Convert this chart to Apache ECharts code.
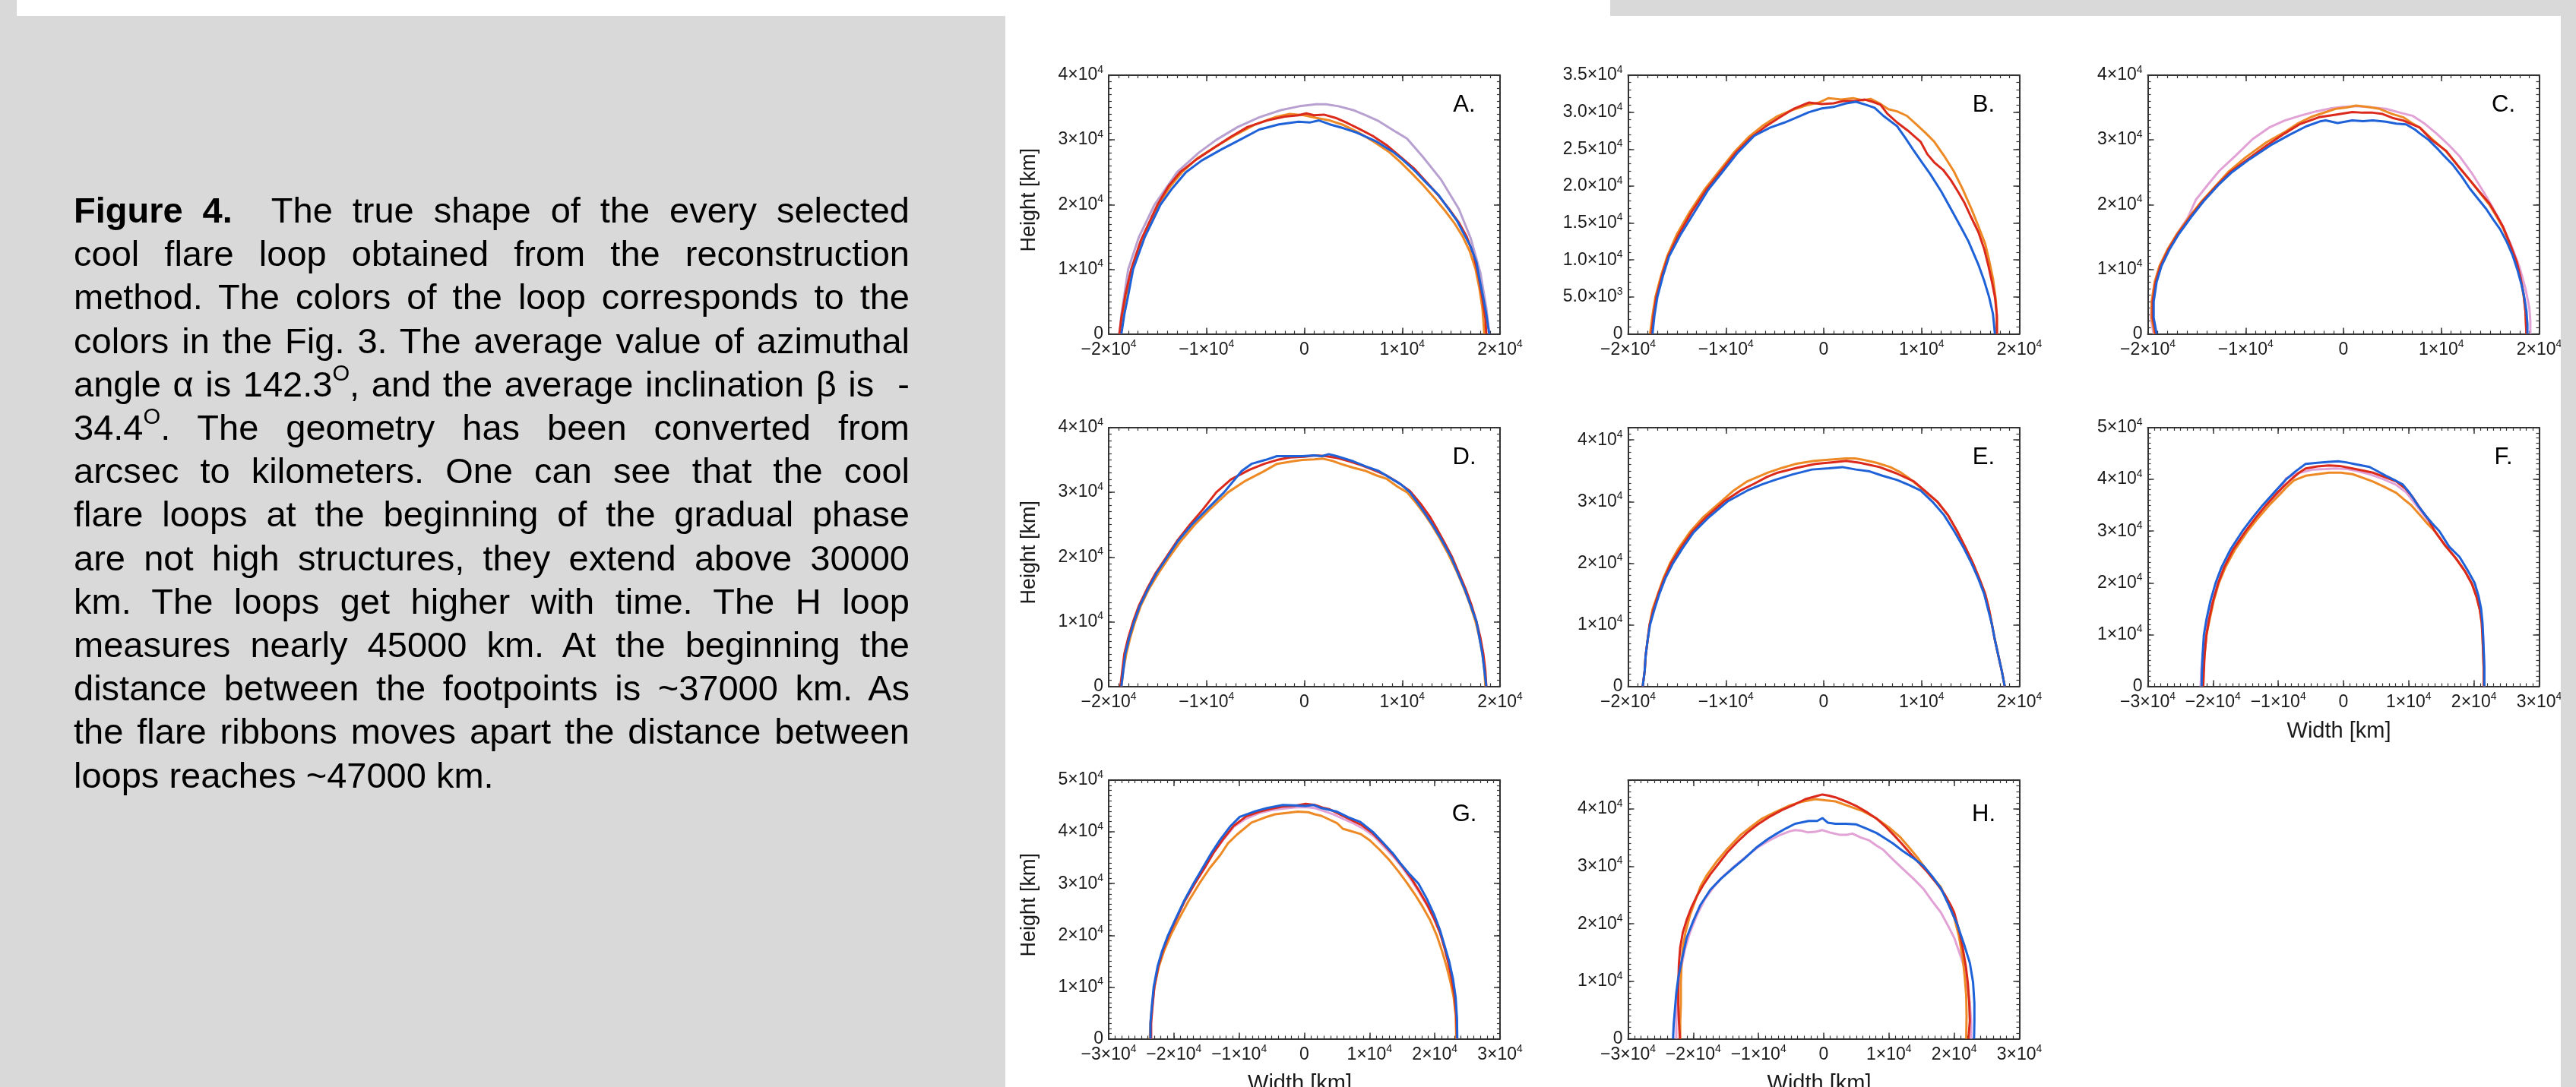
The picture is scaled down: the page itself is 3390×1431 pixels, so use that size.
<!DOCTYPE html>
<html>
<head>
<meta charset="utf-8">
<script src="https://cdn.jsdelivr.net/npm/echarts/dist/echarts.min.js"></script>
<style>
  html, body { margin:0; padding:0; }
  body { width:3390px; height:1431px; background:#d9d9d9; overflow:hidden; position:relative; font-family:'Liberation Sans', Arial, sans-serif; }
  #topband { position:absolute; left:22px; top:0; width:2097px; height:21px; background:#fff; }
  #panel { position:absolute; left:1323px; top:21px; width:2047px; height:1410px; background:#fff; }
  #chart { position:absolute; left:0; top:0; width:3390px; height:1431px; z-index:2; }
  #rightstrip { position:absolute; left:3370px; top:0; width:20px; height:1431px; background:#d9d9d9; z-index:5; }
  #cap { position:absolute; left:97px; top:248px; width:1100px; font-size:47px; line-height:57.2px; color:#000; z-index:3; }
  #cap .l { text-align:justify; text-align-last:justify; }
  #cap .last { text-align:left; }
  #cap sup { font-size:0.62em; vertical-align:baseline; position:relative; top:-0.72em; line-height:0; }
</style>
</head>
<body>
<div id="topband"></div>
<div id="panel"></div>
<div id="chart"></div>
<div id="rightstrip"></div>
<div id="cap">
<div class="l"><b>Figure 4.</b>&nbsp; The true shape of the every selected</div>
<div class="l">cool flare loop obtained from the reconstruction</div>
<div class="l">method. The colors of the loop corresponds to the</div>
<div class="l">colors in the Fig. 3. The average value of azimuthal</div>
<div class="l">angle α is 142.3<sup>O</sup>, and the average inclination β is&nbsp; -</div>
<div class="l">34.4<sup>O</sup>. The geometry has been converted from</div>
<div class="l">arcsec to kilometers. One can see that the cool</div>
<div class="l">flare loops at the beginning of the gradual phase</div>
<div class="l">are not high structures, they extend above 30000</div>
<div class="l">km. The loops get higher with time. The H loop</div>
<div class="l">measures nearly 45000 km. At the beginning the</div>
<div class="l">distance between the footpoints is ~37000 km. As</div>
<div class="l">the flare ribbons moves apart the distance between</div>
<div class="last">loops reaches ~47000 km.</div>
</div>
<script>
// ---------------- DATA (x, height) in thousands of km ----------------
const purpleA = [[-18.9,0],[-18.7,3],[-18.4,6],[-18.0,10],[-16.9,15],[-15.3,20],[-13.0,25],[-10.8,28],[-9.0,30],[-6.8,32],[-4.6,33.5],[-2.4,34.6],[-0.5,35.2],[1.2,35.5],[2.2,35.5],[3.5,35.2],[5.0,34.6],[6.3,33.8],[7.6,32.9],[9.4,31.2],[10.5,30.2],[12.1,27.4],[14.0,23.8],[15.8,19.3],[17.0,14.8],[18.0,9.4],[18.6,4.0],[18.9,0]];
const orangeA = [[-18.8,0],[-18.6,2.5],[-18.2,6],[-17.6,10],[-16.6,14.5],[-14.9,20],[-13.7,22.8],[-12.5,25],[-10.9,27.2],[-9.0,29.0],[-7.0,30.8],[-5.0,32.4],[-3.0,33.5],[-1.5,34.0],[0.0,33.8],[1.2,33.4],[2.6,33.0],[4.0,32.3],[5.6,31.1],[7.2,29.6],[8.6,28.2],[9.8,26.6],[11.0,24.8],[12.2,22.9],[13.3,21.0],[14.4,19.0],[15.3,17.2],[16.2,15.0],[16.9,12.8],[17.5,10.0],[17.9,7.0],[18.2,4.0],[18.4,0]];
const redA = [[-18.9,0],[-18.7,2.5],[-18.3,6],[-17.7,10],[-16.7,14.5],[-15.0,20],[-13.9,22.8],[-12.7,25],[-11.0,27.0],[-9.2,28.8],[-7.6,30.4],[-5.8,32.0],[-3.8,33.0],[-2.0,33.6],[-0.6,33.8],[0.2,34.1],[1.0,33.8],[2.0,33.9],[3.2,33.4],[4.4,32.6],[5.6,31.7],[7.0,30.6],[8.4,29.2],[9.8,27.4],[11.2,25.6],[12.4,23.6],[13.6,21.6],[14.8,19.3],[15.8,17.2],[16.6,15.0],[17.3,12.2],[17.8,9.0],[18.2,5.5],[18.5,2.5],[18.6,0]];
const blueA = [[-18.7,0],[-18.4,3],[-18.0,6],[-17.5,10],[-16.3,15],[-14.7,20],[-13.5,22.5],[-12.1,25],[-10.5,26.8],[-8.5,28.5],[-6.6,30],[-4.6,31.6],[-2.6,32.4],[-0.6,32.8],[0.6,32.7],[1.5,33.0],[2.6,32.4],[4.0,31.8],[5.4,31.1],[7.3,29.8],[9.0,28.2],[10.0,27.0],[11.3,25.2],[12.5,23.3],[13.7,21.5],[14.8,19.2],[15.6,17.5],[16.4,15.2],[17.0,13.5],[17.6,11.0],[17.9,8.5],[18.3,5.5],[18.6,3.0],[18.9,0]];

const orangeB = [[-17.75,0],[-17.5,2.5],[-17.2,5],[-16.6,8],[-16.0,10.5],[-15.0,13.5],[-13.7,16.5],[-12.2,19.5],[-10.7,22.0],[-9.2,24.5],[-7.7,26.6],[-6.3,28.1],[-4.8,29.4],[-3.2,30.3],[-1.8,30.9],[-0.5,31.3],[0.5,31.9],[1.8,31.7],[3.0,31.9],[4.0,31.6],[4.8,31.8],[5.7,31.2],[6.6,30.4],[7.5,30.1],[8.5,29.5],[9.5,28.3],[10.4,27.2],[11.3,26.0],[12.3,24.1],[13.3,22.0],[14.2,19.6],[15.1,16.9],[15.8,14.6],[16.5,12.2],[16.9,10.0],[17.3,7.5],[17.6,4.5],[17.7,2.0],[17.7,0]];
const redB = [[-17.6,0],[-17.4,2.5],[-17.1,5],[-16.5,8],[-15.9,10.5],[-14.8,13.5],[-13.5,16.5],[-12.0,19.5],[-10.5,22.0],[-9.0,24.5],[-7.5,26.5],[-6.0,28.0],[-4.5,29.3],[-3.0,30.5],[-1.5,31.3],[-0.2,31.1],[1.0,31.2],[2.0,31.5],[3.2,31.5],[4.2,31.7],[5.0,31.4],[5.8,31.0],[6.5,29.8],[7.5,28.6],[8.6,27.5],[9.9,26.0],[10.6,24.3],[11.3,23.2],[12.2,22.2],[13.0,20.8],[13.7,19.3],[14.4,17.7],[15.1,15.7],[15.8,13.8],[16.4,11.5],[16.8,9.4],[17.2,7.0],[17.5,5.0],[17.7,2.5],[17.7,0]];
const blueB = [[-17.5,0],[-17.3,2.5],[-17.0,5],[-16.4,8],[-15.8,10.5],[-14.6,13.5],[-13.2,16.5],[-11.8,19.5],[-10.3,22.0],[-8.8,24.5],[-7.1,26.8],[-5.5,27.9],[-4.0,28.6],[-2.9,29.2],[-1.5,30.0],[-0.2,30.5],[1.0,30.7],[2.3,31.2],[3.3,31.4],[4.3,31.0],[5.2,30.6],[6.1,29.5],[7.5,28.1],[8.4,26.4],[9.2,24.8],[10.1,23.1],[10.9,21.6],[12.0,19.3],[13.0,16.9],[14.0,14.5],[14.8,12.5],[15.8,9.4],[16.4,7.2],[16.9,5.0],[17.3,2.7],[17.5,0]];

const pinkC = [[-19.4,0],[-19.7,2.5],[-19.6,5],[-19.3,8],[-18.8,10.5],[-18.0,13],[-17.0,15.5],[-15.9,18],[-15.1,20.7],[-13.9,23],[-12.7,25.2],[-11.0,27.6],[-9.3,30.1],[-7.6,31.9],[-6.0,33.0],[-4.5,33.7],[-2.8,34.4],[-1.2,34.9],[-0.1,35.1],[1.5,35.2],[3.0,35.0],[4.35,34.8],[5.8,34.2],[7.1,33.7],[8.3,32.5],[9.5,31.0],[10.7,29.3],[11.9,27.4],[13.1,24.9],[14.3,22.0],[15.3,19.4],[16.3,16.6],[17.2,13.5],[18.0,10.3],[18.6,7.0],[19.0,4.0],[19.1,2.0],[19.1,0]];
const orangeC = [[-19.3,0],[-19.6,2.5],[-19.6,5],[-19.3,8],[-18.8,10.5],[-18.0,13],[-17.0,15.5],[-15.8,18],[-14.5,20.5],[-13.0,23],[-11.8,25],[-10.0,27.3],[-7.9,29.6],[-5.9,31.3],[-4.6,32.6],[-3.2,33.6],[-1.8,34.3],[-0.8,34.8],[0.3,35.0],[1.3,35.3],[2.5,35.1],[3.7,34.8],[5.0,34.0],[6.1,33.5],[7.0,32.6],[7.8,31.9],[9.0,30.2],[10.5,28.2],[11.7,26.0],[12.9,23.8],[14.0,21.7],[14.9,20.0],[15.7,18.0],[16.3,16.4],[17.0,13.8],[17.7,11.0],[18.1,8.5],[18.4,6.0],[18.6,3.5],[18.7,0]];
const redC = [[-19.2,0],[-19.5,2.5],[-19.5,5],[-19.2,8],[-18.7,10.5],[-17.9,13],[-16.9,15.5],[-15.7,18],[-14.4,20.5],[-12.9,23],[-11.6,25],[-9.8,27],[-7.8,29.2],[-6.0,31.0],[-4.5,32.4],[-2.5,33.5],[-0.8,33.9],[0.9,34.3],[2.0,34.2],[3.0,34.2],[4.0,34.0],[5.0,33.4],[6.1,33.0],[7.0,32.4],[7.8,31.9],[9.0,30.0],[10.5,28.3],[11.7,26.0],[12.9,23.8],[14.0,21.8],[14.9,20.2],[15.7,18.2],[16.3,16.6],[17.0,14.0],[17.7,11.2],[18.1,8.7],[18.4,6.3],[18.6,3.5],[18.7,0]];
const blueC = [[-19.1,0],[-19.4,2.5],[-19.4,5],[-19.1,8],[-18.6,10.5],[-17.8,13],[-16.8,15.5],[-15.6,18],[-14.3,20.5],[-12.8,23],[-11.4,25],[-9.6,27],[-7.3,29.3],[-5.5,30.8],[-3.8,32.1],[-2.3,32.9],[-1.8,33.0],[-0.6,32.6],[0.9,33.0],[2.0,32.9],[3.0,33.0],[4.35,32.8],[5.4,32.5],[6.4,32.4],[7.3,31.6],[7.8,31.0],[8.7,30.0],[9.5,28.8],[10.3,27.5],[11.2,26.1],[12.1,24.3],[12.9,22.5],[13.8,20.8],[14.6,19.3],[15.3,17.7],[16.0,16.2],[16.7,14.2],[17.3,12.1],[17.8,9.8],[18.2,7.6],[18.5,5.5],[18.7,3.5],[18.8,1.5],[18.8,0]];

const orangeD = [[-18.7,0],[-18.5,2.5],[-18.2,5],[-17.8,7.5],[-17.3,10],[-16.7,12.5],[-15.9,15],[-14.9,17.5],[-13.8,20],[-12.6,22.5],[-11.2,25],[-9.7,27.3],[-7.8,30],[-6.0,31.8],[-4.2,33.2],[-2.8,34.4],[-1.2,34.8],[-0.2,35.0],[1.0,35.1],[1.9,35.2],[2.8,34.9],[3.7,34.4],[5.0,33.8],[6.3,33.3],[7.4,32.6],[8.4,32.1],[9.5,30.9],[10.5,30.0],[11.4,28.4],[12.3,26.6],[13.0,25.0],[13.8,23.0],[14.7,20.5],[15.5,18.0],[16.3,15.2],[16.9,12.8],[17.5,10],[17.9,7.5],[18.2,5],[18.4,2.5],[18.5,0]];
const redD = [[-18.8,0],[-18.6,2.5],[-18.4,5],[-18.0,7.5],[-17.5,10],[-16.9,12.5],[-16.1,15],[-15.2,17.5],[-14.1,20],[-13.0,22.5],[-11.7,25],[-10.4,27.3],[-9.0,30],[-7.5,32.0],[-5.6,33.5],[-4.1,34.4],[-2.8,35.0],[-1.5,35.4],[0.0,35.5],[1.1,35.7],[2.2,35.6],[3.4,35.3],[4.6,34.8],[5.8,34.2],[7.0,33.5],[8.4,32.6],[9.6,31.5],[10.8,30.2],[11.9,28.2],[12.8,26.3],[13.5,24.5],[14.3,22.3],[15.1,20.0],[15.8,17.5],[16.5,15],[17.1,12.5],[17.6,10],[18.0,7.5],[18.3,5],[18.5,2.5],[18.6,0]];
const blueD = [[-18.7,0],[-18.5,2.5],[-18.3,5],[-17.9,7.5],[-17.4,10],[-16.8,12.5],[-16.0,15],[-15.1,17.5],[-14.0,20],[-12.9,22.5],[-11.5,25],[-10.0,27.3],[-8.2,30],[-6.4,33.3],[-5.4,34.4],[-4.0,35.0],[-2.8,35.6],[-1.2,35.6],[-0.2,35.6],[1.0,35.7],[1.8,35.6],[2.5,35.9],[3.3,35.6],[5.0,34.8],[6.3,34.0],[7.6,33.3],[8.8,32.2],[9.9,31.2],[10.8,30.0],[12.0,27.5],[13.1,25],[14.1,22.5],[15.0,20],[15.7,17.5],[16.4,15],[17.0,12.5],[17.6,10],[17.9,7.5],[18.2,5],[18.4,2.5],[18.6,0]];

const orangeE = [[-18.5,0],[-18.3,2.5],[-18.2,5],[-18.0,7.5],[-17.8,10],[-17.5,12.5],[-16.95,15],[-16.4,17.5],[-15.7,20],[-14.8,22.5],[-13.7,25],[-12.3,27.5],[-10.5,30],[-9.2,31.8],[-7.8,33.3],[-5.7,34.7],[-4.2,35.5],[-2.9,36.1],[-1.0,36.6],[0.5,36.8],[2.3,37.0],[3.2,37.0],[4.0,36.8],[5.4,36.3],[6.8,35.6],[7.9,34.7],[8.8,33.7],[9.8,32.4],[10.8,31.0],[11.6,30.0],[12.7,27.8],[13.7,25.0],[14.5,22.5],[15.25,20],[15.9,17.5],[16.5,15],[16.9,12.5],[17.2,10],[17.5,7.5],[17.85,5],[18.2,2.5],[18.5,0]];
const redE = [[-18.5,0],[-18.3,2.5],[-18.2,5],[-18.0,7.5],[-17.8,10],[-17.4,12.5],[-16.9,15],[-16.3,17.5],[-15.6,20],[-14.6,22.5],[-13.5,25],[-12.0,27.5],[-10.2,30],[-8.5,31.8],[-7.1,32.9],[-5.8,34.0],[-4.7,34.7],[-2.7,35.5],[-0.85,36.1],[1.0,36.4],[2.3,36.6],[3.7,36.3],[5.7,35.6],[7.4,34.6],[9.2,33.3],[10.3,31.8],[11.6,30.0],[12.7,27.8],[13.7,25.0],[14.5,22.5],[15.25,20],[15.9,17.5],[16.5,15],[16.9,12.5],[17.2,10],[17.5,7.5],[17.85,5],[18.2,2.5],[18.5,0]];
const blueE = [[-18.5,0],[-18.3,2.5],[-18.2,5],[-18.0,7.5],[-17.75,10],[-17.3,12.5],[-16.8,15],[-16.2,17.5],[-15.4,20],[-14.4,22.5],[-13.3,25],[-11.7,27.5],[-9.85,30],[-7.8,31.8],[-6.3,32.8],[-5.0,33.5],[-3.2,34.4],[-1.2,35.2],[0.5,35.4],[1.9,35.6],[3.3,35.2],[4.7,34.9],[6.0,34.2],[7.5,33.5],[8.7,32.7],[9.9,31.8],[11.1,30.0],[12.3,27.8],[13.4,25.0],[14.3,22.5],[15.1,20],[15.8,17.5],[16.4,15],[16.8,12.5],[17.2,10],[17.5,7.5],[17.85,5],[18.2,2.5],[18.5,0]];

const pinkF = [[-21.9,0],[-21.8,3],[-21.6,6],[-21.2,10],[-20.7,13],[-20.0,16.5],[-19.2,20],[-18.2,23],[-16.8,26.5],[-14.9,30],[-13.3,32.5],[-11.6,35],[-9.8,37.5],[-8.8,40.2],[-7.0,41.2],[-4.7,41.9],[-2.8,42.0],[-1.2,42.1],[0.6,42.0],[2.2,41.6],[4.0,41.0],[6.0,40.1],[8.0,39.0],[9.6,37.5],[10.8,35.6],[12.0,33.6],[13.2,31.6],[14.2,29.6],[15.8,27.0],[17.3,24.6],[18.7,22.1],[19.8,19.6],[20.5,17.1],[21.0,14.6],[21.3,12.1],[21.4,10],[21.5,7],[21.6,3.5],[21.6,0]];
const orangeF = [[-21.6,0],[-21.5,3],[-21.3,6],[-21.0,10],[-20.5,13],[-19.9,16.5],[-19.1,20],[-18.1,23],[-16.6,26.5],[-14.7,30],[-13.1,32.5],[-11.4,35],[-9.6,37.3],[-8.8,38.4],[-7.6,39.8],[-5.8,40.7],[-4.0,41.0],[-2.2,41.3],[-0.4,41.3],[1.4,41.0],[3.0,40.3],[4.5,39.6],[6.2,38.6],[8.1,37.4],[9.5,35.9],[10.4,35],[11.8,33.0],[12.9,31.4],[14.0,30],[15.6,27.2],[17.2,24.8],[18.6,22.3],[19.7,19.8],[20.4,17.3],[20.9,14.8],[21.2,12.3],[21.3,10],[21.4,7],[21.5,3.5],[21.5,0]];
const redF = [[-21.5,0],[-21.4,3],[-21.3,6],[-21.0,10],[-20.6,13],[-20.0,16.5],[-19.2,20],[-18.3,23],[-16.9,26.5],[-15.0,30],[-13.5,32.5],[-11.9,35],[-10.1,37.5],[-8.2,39.8],[-6.8,41.3],[-5.8,42.1],[-4.0,42.5],[-2.2,42.7],[-0.6,42.6],[1.4,42.1],[3.0,41.7],[4.5,41.3],[6.2,40.5],[8.1,39.6],[9.5,38.2],[10.6,36.6],[11.8,34.3],[13.0,32.3],[14.0,30],[15.6,27.2],[17.2,24.8],[18.6,22.3],[19.7,19.8],[20.4,17.3],[20.9,14.8],[21.2,12.3],[21.3,10],[21.4,7],[21.5,3.5],[21.5,0]];
const blueF = [[-21.75,0],[-21.7,3],[-21.6,6],[-21.4,10],[-21.0,13],[-20.4,16.5],[-19.6,20],[-18.7,23],[-17.3,26.5],[-15.5,30],[-14.0,32.5],[-12.4,35],[-10.6,37.5],[-8.8,40],[-7.4,41.5],[-5.8,43.0],[-4.0,43.2],[-2.2,43.4],[-0.8,43.5],[0.4,43.3],[1.6,43.0],[2.8,42.7],[4.0,42.4],[5.2,41.6],[6.5,40.7],[7.8,39.9],[9.1,39.0],[10.2,37.3],[11.4,35],[12.6,33.0],[13.6,31.5],[14.7,30],[16.2,27],[17.8,25],[19.0,22.5],[20.1,20],[20.7,17.5],[21.1,15],[21.3,12.5],[21.4,10],[21.5,7],[21.6,3.5],[21.6,0]];

const pinkG = [[-23.5,0],[-23.5,3],[-23.3,6],[-23.0,10],[-22.4,14],[-21.7,17],[-20.8,20],[-19.7,23],[-18.4,26.5],[-16.8,30],[-15.3,33],[-13.9,36],[-12.4,38.5],[-10.8,41.0],[-9.0,42.5],[-7.0,43.6],[-5.0,44.2],[-3.3,44.5],[-1.5,44.7],[0.2,44.8],[1.6,44.6],[3.0,44.0],[4.4,43.4],[6.0,42.5],[7.6,41.6],[9.2,40.5],[10.8,39.0],[12.3,37.0],[13.8,35.0],[15.2,32.8],[16.5,30.5],[17.7,28.1],[18.9,25.6],[20.0,22.9],[20.9,20.2],[21.6,17.3],[22.2,14.4],[22.7,11.4],[23.1,8.4],[23.3,4.5],[23.4,0]];
const orangeG = [[-23.7,0],[-23.6,3],[-23.4,6],[-23.0,10],[-22.3,14],[-21.5,17],[-20.5,20],[-19.3,23],[-17.8,26.5],[-16.1,30],[-14.5,33],[-12.9,35.5],[-11.7,37.8],[-10.3,39.5],[-8.1,41.8],[-6.0,42.8],[-4.5,43.4],[-2.5,43.7],[-1.0,43.9],[0.6,43.8],[1.6,43.4],[2.6,43.1],[3.8,42.4],[5.0,41.7],[5.9,40.6],[7.0,40.2],[8.6,39.6],[10.0,38.4],[11.5,36.6],[13.0,34.6],[14.4,32.4],[15.7,30.2],[16.9,28.0],[18.1,25.6],[19.3,22.9],[20.3,20.0],[21.1,17.0],[21.8,14.0],[22.4,11.0],[22.9,8],[23.2,4.5],[23.3,0]];
const redG = [[-23.5,0],[-23.5,3],[-23.3,6],[-23.0,10],[-22.4,14],[-21.7,17],[-20.8,20],[-19.7,23],[-18.4,26.5],[-16.8,30],[-15.3,33],[-13.9,36],[-12.4,38.7],[-10.8,41.2],[-8.9,43.0],[-6.9,43.9],[-5.0,44.5],[-3.3,44.9],[-1.6,45.0],[0.2,45.4],[1.6,45.2],[2.8,44.7],[3.8,44.4],[5.4,43.4],[7.0,42.4],[8.8,41.3],[10.5,39.7],[12.0,37.8],[13.6,35.6],[15.0,33.4],[16.4,31.0],[17.6,28.6],[18.8,26.0],[19.9,23.2],[20.8,20.5],[21.5,17.5],[22.1,14.5],[22.6,11.5],[23.0,8.5],[23.3,4.5],[23.4,0]];
const blueG = [[-23.6,0],[-23.6,3],[-23.4,6],[-23.1,10],[-22.5,14],[-21.8,17],[-20.9,20],[-19.8,23],[-18.5,26.5],[-17.0,30],[-15.6,33],[-14.2,36],[-12.9,38.5],[-11.4,41.0],[-9.9,42.9],[-7.5,44.0],[-5.7,44.6],[-3.3,45.2],[-1.5,45.1],[0.2,45.0],[1.4,45.2],[2.6,44.6],[4.0,44.2],[5.0,43.9],[6.8,42.8],[8.6,41.9],[10.5,40.0],[12.0,38.0],[13.6,35.8],[14.8,33.8],[16.0,32.0],[17.5,30.0],[18.8,27.0],[19.9,24.0],[20.8,21.0],[21.5,18],[22.2,15],[22.8,11.5],[23.2,8],[23.4,4],[23.45,0]];

const pinkH = [[-22.6,0],[-22.6,3],[-22.5,6],[-22.3,9],[-21.9,12],[-21.3,15.5],[-20.5,18.5],[-19.4,21.6],[-18.2,24.3],[-16.8,26.5],[-15.3,28.4],[-13.6,30.1],[-11.8,31.8],[-10.1,33.3],[-8.5,34.4],[-6.8,35.4],[-5.2,36.1],[-4.4,36.3],[-3.4,36.2],[-2.4,35.9],[-1.3,36.0],[-0.2,36.3],[0.9,35.9],[2.4,35.5],[3.6,35.5],[4.4,35.7],[5.7,35.0],[7.0,34.5],[8.1,33.6],[9.1,32.9],[10.6,31.2],[12.2,29.5],[13.8,27.8],[15.35,26.0],[16.6,24.0],[17.95,22.0],[19.0,19.8],[20.0,17.6],[20.8,15.0],[21.6,12.3],[22.0,9.3],[22.4,6.2],[22.6,3.0],[22.6,0]];
const orangeH = [[-22.0,0],[-22.0,3],[-21.9,6],[-21.9,9.7],[-21.8,13],[-21.6,15.9],[-21.2,18.5],[-20.5,21.5],[-19.7,24.0],[-18.9,26.5],[-17.9,28.5],[-16.3,31.0],[-14.8,33.0],[-12.7,35.5],[-11.0,37.0],[-9.6,38.2],[-7.5,39.4],[-5.4,40.5],[-3.5,41.2],[-1.3,41.7],[0.2,41.5],[1.8,41.3],[3.8,40.5],[6.0,39.6],[8.0,38.4],[10.2,36.6],[11.8,35.0],[13.3,33.0],[14.4,31.5],[15.35,30.0],[16.6,28.2],[17.95,26.4],[19.0,23.8],[20.0,21.1],[20.7,18.0],[21.3,14.1],[21.6,11.0],[21.85,7.5],[21.9,4.0],[21.85,0]];
const redH = [[-22.05,0],[-22.2,3],[-22.3,6],[-22.3,9.7],[-22.2,13],[-22.0,15.9],[-21.6,18.5],[-21.0,20.7],[-20.3,22.8],[-19.5,24.7],[-18.5,26.7],[-17.4,28.6],[-16.1,30.5],[-14.8,32.4],[-13.3,34.2],[-11.7,35.9],[-10.1,37.3],[-8.5,38.5],[-6.4,39.8],[-4.4,40.8],[-2.8,41.7],[-1.2,42.2],[-0.2,42.5],[0.8,42.3],[1.8,42.0],[3.4,41.3],[5.0,40.5],[6.5,39.5],[8.1,38.3],[9.4,37.0],[10.7,35.5],[12.0,33.9],[13.3,32.2],[14.6,30.6],[15.9,29.0],[17.2,27.2],[18.5,25.2],[19.4,23.4],[20.0,22.0],[20.8,18.6],[21.3,15.9],[21.8,12.5],[22.1,9.7],[22.3,6.5],[22.4,3.1],[22.2,0]];
const blueH = [[-23.1,0],[-23.0,2.5],[-22.8,5.3],[-22.6,8],[-22.3,10.6],[-21.7,14],[-21.0,17.6],[-20.0,20.5],[-18.9,23.3],[-17.4,25.9],[-15.8,27.8],[-14.0,29.6],[-12.2,31.3],[-10.4,33.2],[-8.5,34.8],[-7.2,35.7],[-5.8,36.6],[-4.4,37.4],[-2.3,37.9],[-1.0,37.9],[-0.2,38.4],[0.6,37.6],[1.8,37.4],[3.4,37.4],[5.0,37.3],[6.5,36.6],[8.1,35.8],[9.1,35.1],[10.6,34.0],[12.2,32.6],[13.8,31.4],[15.35,30.0],[16.6,28.3],[17.95,26.2],[19.2,23.2],[20.5,19.8],[21.5,16.5],[22.4,13.2],[22.9,9.8],[23.1,6.2],[23.1,3.0],[23.05,0]];

// ---------------- tick labels ----------------
const xTicks20 = [-20000,-10000,0,10000,20000];
const xLabels20 = [['−2×10','4'],['−1×10','4'],['0',''],['1×10','4'],['2×10','4']];
const xTicks30 = [-30000,-20000,-10000,0,10000,20000,30000];
const xLabels30 = [['−3×10','4'],['−2×10','4'],['−1×10','4'],['0',''],['1×10','4'],['2×10','4'],['3×10','4']];
const yTicks40 = [0,10000,20000,30000,40000];
const yLabels40 = [['0',''],['1×10','4'],['2×10','4'],['3×10','4'],['4×10','4']];
const yTicks35 = [0,5000,10000,15000,20000,25000,30000,35000];
const yLabels35 = [['0',''],['5.0×10','3'],['1.0×10','4'],['1.5×10','4'],['2.0×10','4'],['2.5×10','4'],['3.0×10','4'],['3.5×10','4']];
const yTicks50 = [0,10000,20000,30000,40000,50000];
const yLabels50 = [['0',''],['1×10','4'],['2×10','4'],['3×10','4'],['4×10','4'],['5×10','4']];

const COLORS = { red:'#db2a1c', orange:'#ee8a26', blue:'#1f62d8', pink:'#e2a2d6', purple:'#b8a0d0' };

const panels = [
  { name:'A.', col:0, row:0, xr:[-20000,20000], xt:xTicks20, xl:xLabels20, yr:[0,40000], ymaj:10000, yt:yTicks40, yl:yLabels40,
    curves:[['purple',purpleA],['orange',orangeA],['red',redA],['blue',blueA]] },
  { name:'B.', col:1, row:0, xr:[-20000,20000], xt:xTicks20, xl:xLabels20, yr:[0,35000], ymaj:5000, yt:yTicks35, yl:yLabels35,
    curves:[['orange',orangeB],['red',redB],['blue',blueB]] },
  { name:'C.', col:2, row:0, xr:[-20000,20000], xt:xTicks20, xl:xLabels20, yr:[0,40000], ymaj:10000, yt:yTicks40, yl:yLabels40,
    curves:[['pink',pinkC],['orange',orangeC],['red',redC],['blue',blueC]] },
  { name:'D.', col:0, row:1, xr:[-20000,20000], xt:xTicks20, xl:xLabels20, yr:[0,40000], ymaj:10000, yt:yTicks40, yl:yLabels40,
    curves:[['orange',orangeD],['red',redD],['blue',blueD]] },
  { name:'E.', col:1, row:1, xr:[-20000,20000], xt:xTicks20, xl:xLabels20, yr:[0,42000], ymaj:10000, yt:yTicks40, yl:yLabels40,
    curves:[['orange',orangeE],['red',redE],['blue',blueE]] },
  { name:'F.', col:2, row:1, xr:[-30000,30000], xt:xTicks30, xl:xLabels30, yr:[0,50000], ymaj:10000, yt:yTicks50, yl:yLabels50,
    curves:[['pink',pinkF],['orange',orangeF],['red',redF],['blue',blueF]], xTitle:true },
  { name:'G.', col:0, row:2, xr:[-30000,30000], xt:xTicks30, xl:xLabels30, yr:[0,50000], ymaj:10000, yt:yTicks50, yl:yLabels50,
    curves:[['pink',pinkG],['orange',orangeG],['red',redG],['blue',blueG]], xTitle:true },
  { name:'H.', col:1, row:2, xr:[-30000,30000], xt:xTicks30, xl:xLabels30, yr:[0,45000], ymaj:10000, yt:yTicks40, yl:yLabels40,
    curves:[['pink',pinkH],['orange',orangeH],['red',redH],['blue',blueH]], xTitle:true }
];

// ---------------- layout ----------------
const colLeft = [1459, 2142.5, 2826.5];
const rowTop = [99, 563, 1027];
const GW = 515, GH = 340.5;
const AX = '#333333';
const FONT = 'Liberation Sans';
const TXT = '#1a1a1a';
const rich = {
  b: { fontSize:23, fontFamily:FONT, color:TXT, lineHeight:28 },
  s: { fontSize:14, fontFamily:FONT, color:TXT, lineHeight:15, verticalAlign:'top' }
};

function makeFmt(ticks, labels) {
  return function (v) {
    const i = ticks.indexOf(Math.round(v));
    if (i < 0) return '';
    const l = labels[i];
    return l[1] ? '{b|' + l[0] + '}{s|' + l[1] + '}' : '{b|' + l[0] + '}';
  };
}

function axisSet(gi, dim, range, major, ticks, labels) {
  const pos = dim === 'x' ? ['bottom', 'top'] : ['left', 'right'];
  const base = { type:'value', gridIndex:gi, min:range[0], max:range[1], splitLine:{show:false}, minorTick:{show:false}, axisPointer:{show:false}, scale:false };
  const line = { show:true, onZero:false, lineStyle:{ color:AX, width:2 } };
  const noLine = { show:false, onZero:false };
  const majTick = { show:true, inside:true, length:8, lineStyle:{ color:AX, width:1.5 } };
  const minTick = { show:true, inside:true, length:4, lineStyle:{ color:AX, width:1.2 } };
  return [
    Object.assign({}, base, { position:pos[0], interval:major, axisLine:line, axisTick:majTick,
      axisLabel:{ show:true, margin:dim === 'x' ? 7 : 7, formatter:makeFmt(ticks, labels), rich:rich, showMinLabel:true, showMaxLabel:true, hideOverlap:false } }),
    Object.assign({}, base, { position:pos[0], interval:1000, axisLine:noLine, axisTick:minTick, axisLabel:{show:false} }),
    Object.assign({}, base, { position:pos[1], interval:major, axisLine:line, axisTick:majTick, axisLabel:{show:false} }),
    Object.assign({}, base, { position:pos[1], interval:1000, axisLine:noLine, axisTick:minTick, axisLabel:{show:false} })
  ];
}

const option = { animation:false, backgroundColor:'transparent', grid:[], xAxis:[], yAxis:[], series:[], graphic:[] };

panels.forEach(function (p, gi) {
  const left = colLeft[p.col], top = rowTop[p.row];
  option.grid.push({ left:left, top:top, width:GW, height:GH, containLabel:false, outerBoundsMode:'none', show:false });
  axisSet(gi, 'x', p.xr, 10000, p.xt, p.xl).forEach(a => option.xAxis.push(a));
  axisSet(gi, 'y', p.yr, p.ymaj, p.yt, p.yl).forEach(a => option.yAxis.push(a));
  p.curves.forEach(function (c, ci) {
    option.series.push({
      type:'line', xAxisIndex:gi * 4, yAxisIndex:gi * 4,
      data:c[1].map(pt => [pt[0] * 1000, pt[1] * 1000]),
      showSymbol:false, symbol:'none', smooth:false, silent:true, z:2 + ci,
      lineStyle:{ color:COLORS[c[0]], width:3 }, itemStyle:{ color:COLORS[c[0]] },
      emphasis:{ disabled:true }
    });
  });
  const ly = top + (p.row === 2 ? 45 : 39);
  option.graphic.push({ type:'text', x:left + GW - 47, y:ly, silent:true, z:10,
    style:{ text:p.name, font:'31px "Liberation Sans"', fill:'#000', align:'center', verticalAlign:'middle', textAlign:'center', textVerticalAlign:'middle' } });
  if (p.col === 0) {
    option.graphic.push({ type:'text', x:1354.6, y:top + GH / 2 - 6, rotation:Math.PI / 2, silent:true, z:10,
      style:{ text:'Height [km]', font:'27px "Liberation Sans"', fill:TXT, align:'center', verticalAlign:'middle', textAlign:'center', textVerticalAlign:'middle' } });
  }
  if (p.xTitle) {
    option.graphic.push({ type:'text', x:left + GW / 2 - 6, y:top + GH + 59, silent:true, z:10,
      style:{ text:'Width [km]', font:'29px "Liberation Sans"', fill:TXT, align:'center', verticalAlign:'middle', textAlign:'center', textVerticalAlign:'middle' } });
  }
});

const chart = echarts.init(document.getElementById('chart'), null, { renderer:'canvas', width:3390, height:1431 });
chart.setOption(option);
</script>
</body>
</html>
